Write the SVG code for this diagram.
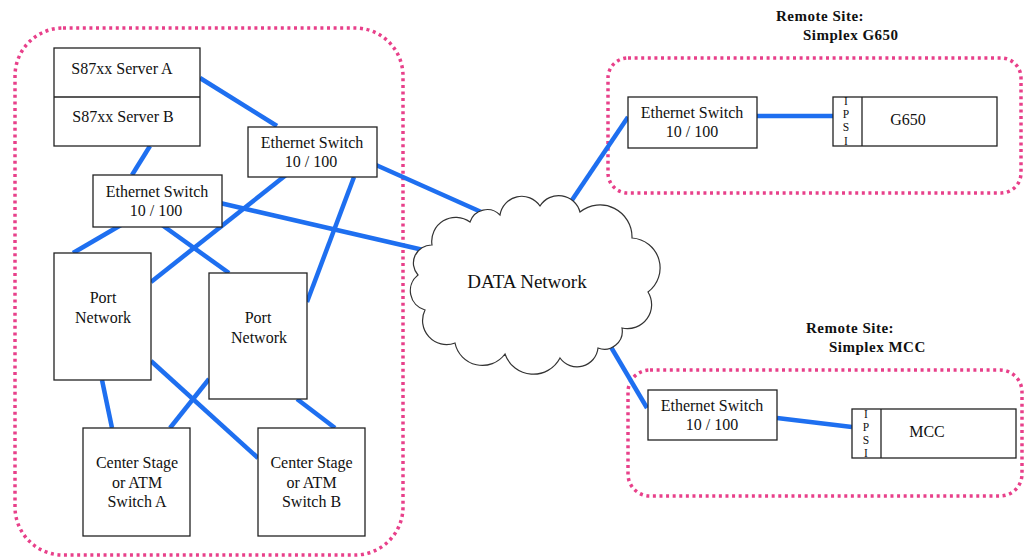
<svg xmlns="http://www.w3.org/2000/svg" width="1025" height="558" viewBox="0 0 1025 558">
<style>
.zone{fill:none;stroke:#e8408a;stroke-width:3.5;stroke-dasharray:3 3.6}
.box{fill:#fff;stroke:#222;stroke-width:1.3}
.t{font-family:"Liberation Serif",serif;font-size:16px;fill:#111;text-anchor:middle}
.tl{font-family:"Liberation Serif",serif;font-size:19px;fill:#111;text-anchor:middle}
.ts{font-family:"Liberation Serif",serif;font-size:11.5px;fill:#111;text-anchor:middle}
.tb{font-family:"Liberation Serif",serif;font-size:15px;font-weight:bold;letter-spacing:0.5px;fill:#111}
.c{stroke:#1e6ff0;stroke-width:4.5;fill:none}
</style>
<rect width="1025" height="558" fill="#fff"/>
<g id="zones">
<rect class="zone" x="15" y="28" width="388" height="527" rx="48"/>
<rect class="zone" x="608" y="58" width="413" height="135" rx="20"/>
<rect class="zone" x="628" y="370" width="394" height="126" rx="22"/>
</g>
<g id="labels">
<text class="tb" x="776" y="21">Remote Site:</text>
<text class="tb" x="803" y="40">Simplex G650</text>
<text class="tb" x="806" y="333">Remote Site:</text>
<text class="tb" x="829" y="352">Simplex MCC</text>
</g>
<g id="connectors">
<line class="c" x1="200" y1="78" x2="277" y2="126"/>
<line class="c" x1="150" y1="146" x2="132" y2="175"/>
<line class="c" x1="286" y1="175" x2="151" y2="282"/>
<line class="c" x1="354" y1="177" x2="307" y2="302"/>
<line class="c" x1="121" y1="225" x2="73" y2="253"/>
<line class="c" x1="162" y1="225" x2="229" y2="273"/>
<line class="c" x1="220" y1="203" x2="432" y2="252"/>
<line class="c" x1="376" y1="165" x2="488" y2="215"/>
<line class="c" x1="102" y1="380" x2="112" y2="428"/>
<line class="c" x1="151" y1="361" x2="258" y2="458"/>
<line class="c" x1="209" y1="379" x2="170" y2="428"/>
<line class="c" x1="297" y1="399" x2="335" y2="428"/>
<line class="c" x1="568" y1="206" x2="628" y2="117"/>
<line class="c" x1="757" y1="116" x2="833" y2="116"/>
<line class="c" x1="608" y1="342" x2="647" y2="408"/>
<line class="c" x1="777" y1="418" x2="852" y2="427"/>
</g>
<g id="servers">
<rect class="box" x="54" y="48" width="146" height="98"/>
<line x1="54" y1="97" x2="200" y2="97" stroke="#222" stroke-width="1.3"/>
<text class="t" x="122" y="74">S87xx Server A</text>
<text class="t" x="123" y="122">S87xx Server B</text>
</g>
<g id="eth-upper">
<rect class="box" x="248" y="127" width="129" height="50"/>
<text class="t" x="312" y="148">Ethernet Switch</text>
<text class="t" x="311" y="167">10 / 100</text>
</g>
<g id="eth-lower">
<rect class="box" x="93" y="175" width="129" height="52"/>
<text class="t" x="157" y="197">Ethernet Switch</text>
<text class="t" x="156" y="216">10 / 100</text>
</g>
<g id="port-a">
<rect class="box" x="54" y="253" width="97" height="127"/>
<text class="t" x="103" y="303">Port</text>
<text class="t" x="103" y="323">Network</text>
</g>
<g id="port-b">
<rect class="box" x="209" y="273" width="98" height="126"/>
<text class="t" x="258" y="323">Port</text>
<text class="t" x="259" y="343">Network</text>
</g>
<g id="cs-a">
<rect class="box" x="83" y="428" width="107" height="108"/>
<text class="t" x="137" y="468">Center Stage</text>
<text class="t" x="137" y="488">or ATM</text>
<text class="t" x="137" y="507">Switch A</text>
</g>
<g id="cs-b">
<rect class="box" x="258" y="428" width="107" height="108"/>
<text class="t" x="311.5" y="468">Center Stage</text>
<text class="t" x="311.5" y="488">or ATM</text>
<text class="t" x="311.5" y="507">Switch B</text>
</g>
<g id="cloud">
<path d="M432 245 A24 24 0 0 1 470 222 A18 18 0 0 1 500 215 A22 22 0 0 1 540 206 A22 22 0 0 1 580 212 A32 32 0 0 1 632 238 A30 30 0 0 1 648 292 A24 24 0 0 1 622 328 A18 18 0 0 1 598 348 A21 21 0 0 1 560 358 A30 30 0 0 1 505 354 A28 28 0 0 1 455 343 A24 24 0 0 1 425 310 A20 20 0 0 1 418 275 A18 18 0 0 1 432 245 Z" fill="#fff" stroke="#333" stroke-width="1.2"/>
<text class="tl" x="527" y="288">DATA Network</text>
</g>
<g id="eth-g650">
<rect class="box" x="628" y="97" width="129" height="51"/>
<text class="t" x="692" y="118">Ethernet Switch</text>
<text class="t" x="692" y="137">10 / 100</text>
</g>
<g id="g650">
<rect class="box" x="833" y="97" width="164" height="49"/>
<line x1="862" y1="97" x2="862" y2="146" stroke="#222" stroke-width="1.3"/>
<text class="ts" x="846" y="105">I</text>
<text class="ts" x="846" y="118">P</text>
<text class="ts" x="846" y="131">S</text>
<text class="ts" x="846" y="145">I</text>
<text class="t" x="908" y="125">G650</text>
</g>
<g id="eth-mcc">
<rect class="box" x="648" y="390" width="129" height="50"/>
<text class="t" x="712" y="411">Ethernet Switch</text>
<text class="t" x="712" y="430">10 / 100</text>
</g>
<g id="mcc">
<rect class="box" x="852" y="409" width="164" height="49"/>
<line x1="881" y1="409" x2="881" y2="458" stroke="#222" stroke-width="1.3"/>
<text class="ts" x="866" y="418">I</text>
<text class="ts" x="866" y="431">P</text>
<text class="ts" x="866" y="444">S</text>
<text class="ts" x="866" y="457">I</text>
<text class="t" x="927" y="437">MCC</text>
</g>
</svg>
